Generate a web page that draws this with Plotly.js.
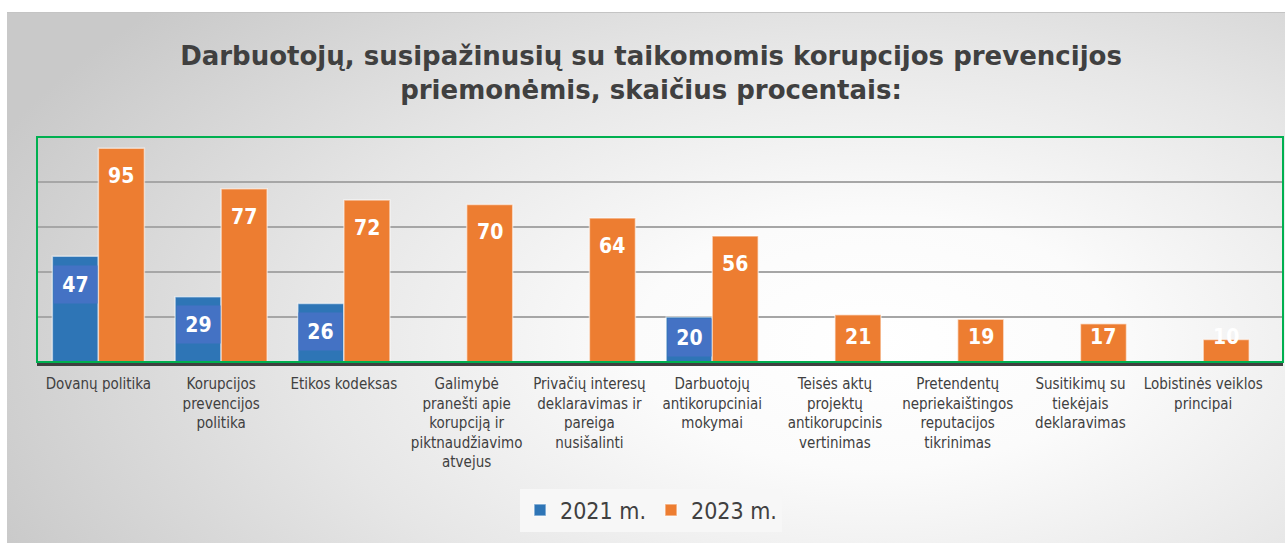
<!DOCTYPE html>
<html>
<head>
<meta charset="utf-8">
<script src="https://cdn.plot.ly/plotly-3.0.1.min.js"></script>
<style>
  html, body { margin: 0; padding: 0; background: #ffffff; }
  #wrap { position: relative; width: 1285px; height: 543px; overflow: hidden; background: #ffffff; }
  #card { position: absolute; left: 7px; top: 12px; width: 1278px; height: 531px;
          border-top: 1px solid #c4c4c4;
          background: radial-gradient(ellipse 75% 95% at 68% 62%, #ffffff 0%, #fbfbfb 25%, #e6e6e6 60%, #c9c9c9 100%); }
  #chart { position: absolute; left: 0; top: 0; width: 1285px; height: 543px; }
</style>
</head>
<body>
<div id="wrap">
  <div id="card"></div>
  <div id="chart"></div>
</div>
<script>
const categories = [
  "Dovanų politika",
  "Korupcijos<br>prevencijos<br>politika",
  "Etikos kodeksas",
  "Galimybė<br>pranešti apie<br>korupciją ir<br>piktnaudžiavimo<br>atvejus",
  "Privačių interesų<br>deklaravimas ir<br>pareiga<br>nusišalinti",
  "Darbuotojų<br>antikorupciniai<br>mokymai",
  "Teisės aktų<br>projektų<br>antikorupcinis<br>vertinimas",
  "Pretendentų<br>nepriekaištingos<br>reputacijos<br>tikrinimas",
  "Susitikimų su<br>tiekėjais<br>deklaravimas",
  "Lobistinės veiklos<br>principai"
];
const values2021 = [47, 29, 26, null, null, 20, null, null, null, null];
const values2023 = [95, 77, 72, 70, 64, 56, 21, 19, 17, 10];
const seriesNames = ["2021 m.", "2023 m."];

const FONT = "'DejaVu Sans Condensed', 'DejaVu Sans', sans-serif";
const FONT_WIDE = "'DejaVu Sans', sans-serif";
const BLUE = "#2E75B6", BLUE_LBL = "#4472C4", ORANGE = "#ED7D31";

const traces = [
  { type: "bar", name: seriesNames[0], x: categories, y: values2021,
    marker: { color: BLUE, line: { color: "rgba(255,255,255,0.55)", width: 1.5 } },
    hoverinfo: "y" },
  { type: "bar", name: seriesNames[1], x: categories, y: values2023,
    marker: { color: ORANGE, line: { color: "rgba(255,255,255,0.55)", width: 1.5 } },
    hoverinfo: "y" }
];

// label centre: a fixed distance below the bar top, but not lower than near the base
function labelY(v) { return Math.max(v - 12.4, 11.1); }

const annotations = [];
values2021.forEach((v, i) => {
  if (v == null) return;
  annotations.push({ x: categories[i], y: labelY(v), xref: "x", yref: "y",
    text: "<b>" + v + "</b>", showarrow: false, xshift: -23, yanchor: "middle",
    bgcolor: BLUE_LBL, width: 43, height: 37, borderpad: 0,
    font: { family: FONT, size: 21, color: "#ffffff" } });
});
values2023.forEach((v, i) => {
  annotations.push({ x: categories[i], y: labelY(v), xref: "x", yref: "y",
    text: "<b>" + v + "</b>", showarrow: false, xshift: 23, yanchor: "middle",
    font: { family: FONT, size: 21, color: "#ffffff" } });
});

const layout = {
  width: 1285, height: 543,
  paper_bgcolor: "rgba(0,0,0,0)", plot_bgcolor: "rgba(0,0,0,0)",
  margin: { l: 37, r: 2, t: 137, b: 181 },
  font: { family: FONT, color: "#404040" },
  title: { text: "<b>Darbuotojų, susipažinusių su taikomomis korupcijos prevencijos<br>priemonėmis, skaičius procentais:</b>",
    font: { family: FONT_WIDE, size: 26, color: "#404040" },
    x: 0.4928, xanchor: "center", xref: "paper", y: 1 - 65 / 543, yref: "container", yanchor: "middle" },
  barmode: "group", bargap: 0.25, bargroupgap: 0,
  xaxis: { type: "category", range: [-0.5, 9.65], showline: true, linecolor: "#404040", linewidth: 4,
    showgrid: false, ticks: "", ticklabelstandoff: 5, tickfont: { family: FONT, size: 15, color: "#404040" },
    fixedrange: true, automargin: false },
  yaxis: { range: [0, 100], dtick: 20, showgrid: true, gridcolor: "#a6a6a6", gridwidth: 1.5,
    showticklabels: false, zeroline: false, showline: false, fixedrange: true },
  showlegend: true,
  legend: { orientation: "h", x: 0.4928, xanchor: "center", y: -0.658, yanchor: "middle",
    bgcolor: "#f7f7f7", borderwidth: 0, font: { family: FONT, size: 23, color: "#404040" },
    itemwidth: 30, traceorder: "normal" },
  shapes: [
    { type: "rect", xref: "paper", yref: "paper", x0: 0, x1: 1, y0: 0, y1: 1,
      line: { color: "#00B050", width: 2 }, fillcolor: "rgba(0,0,0,0)", layer: "above" }
  ],
  annotations: annotations
};

Plotly.newPlot("chart", traces, layout, { displayModeBar: false, staticPlot: true });
</script>
</body>
</html>
